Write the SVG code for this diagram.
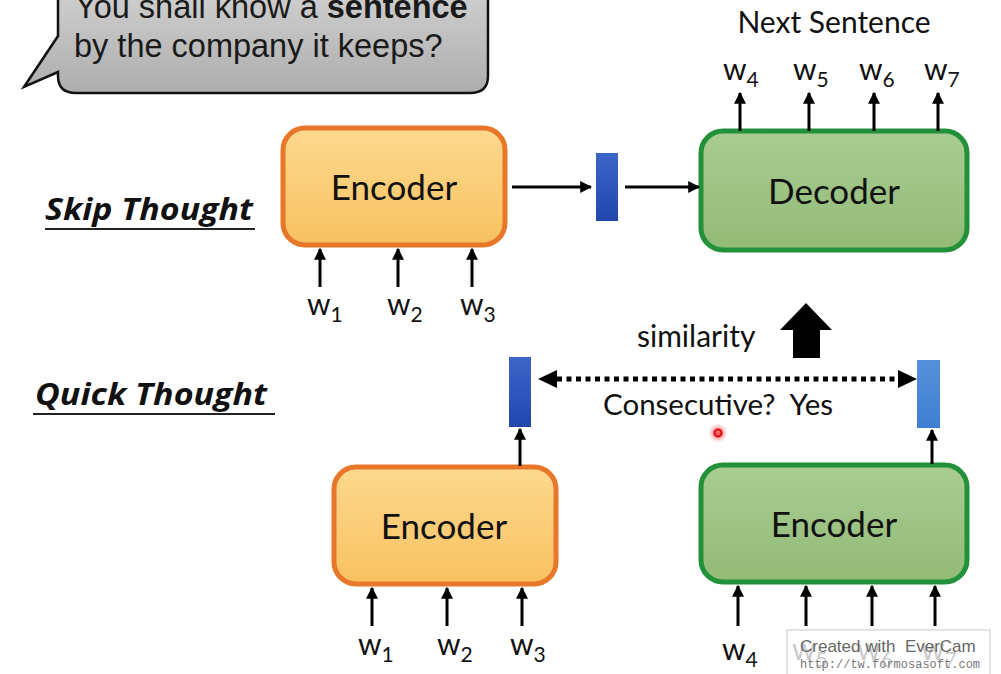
<svg xmlns="http://www.w3.org/2000/svg" width="1001" height="674" viewBox="0 0 1001 674">
<defs>
<linearGradient id="gBubble" x1="0" y1="0" x2="0" y2="1"><stop offset="0" stop-color="#d6d6d6"/><stop offset="1" stop-color="#adadad"/></linearGradient>
<linearGradient id="gOrange" x1="0" y1="0" x2="0" y2="1"><stop offset="0" stop-color="#fdd98f"/><stop offset="1" stop-color="#f8c160"/></linearGradient>
<linearGradient id="gGreen" x1="0" y1="0" x2="0" y2="1"><stop offset="0" stop-color="#a9cc93"/><stop offset="1" stop-color="#92bb76"/></linearGradient>
<linearGradient id="gBlue" x1="0" y1="0" x2="0" y2="1"><stop offset="0" stop-color="#3d66c9"/><stop offset="1" stop-color="#2146ad"/></linearGradient>
<linearGradient id="gBlue2" x1="0" y1="0" x2="0" y2="1"><stop offset="0" stop-color="#5590da"/><stop offset="1" stop-color="#3f7fd2"/></linearGradient>
<radialGradient id="gDot"><stop offset="0" stop-color="#ff3030" stop-opacity="0.9"/><stop offset="0.6" stop-color="#ff5050" stop-opacity="0.35"/><stop offset="1" stop-color="#ff8080" stop-opacity="0"/></radialGradient>
<marker id="ah" viewBox="0 0 10 10" refX="9" refY="5" markerWidth="4" markerHeight="4" orient="auto" markerUnits="strokeWidth"><path d="M0,0 L10,5 L0,10 z" fill="#000"/></marker>
</defs>
<style>
.lbl{font-family:Lato,"Noto Sans","Open Sans",sans-serif;fill:#111}
.box{font-size:35px}
.w{font-size:30px}
.sub{font-size:21px}
.title{font-family:"Open Sans","DejaVu Sans",sans-serif;font-weight:bold;font-style:italic;font-size:30px;fill:#111}
.arr{stroke:#000;stroke-width:3;fill:none;marker-end:url(#ah)}
.ul{stroke:#222;stroke-width:2}
.bub{font-family:'Liberation Sans',Arial,sans-serif;font-size:32.5px;fill:#1a1a1a}
</style>
<rect width="1001" height="674" fill="#fff"/>

<g id="bubble">
<path d="M80,-30 H468 Q488,-30 488,-10 V76 Q488,93 470,93 H76 Q58,93 58,76 V72 L24,87 L58,36 V-10 Q58,-30 80,-30 Z" fill="url(#gBubble)" stroke="#111" stroke-width="2.5"/>
<text class="bub" x="75" y="18">You shall know a <tspan font-weight="bold">sentence</tspan></text>
<text class="bub" x="74" y="57">by the company it keeps?</text>
</g>

<g id="skip-title">
<text class="title" x="45" y="220" textLength="208" lengthAdjust="spacingAndGlyphs">Skip Thought</text>
<line class="ul" x1="45" y1="229" x2="255" y2="229"/>
</g>
<g id="quick-title">
<text class="title" x="35" y="405" textLength="232" lengthAdjust="spacingAndGlyphs">Quick Thought</text>
<line class="ul" x1="33" y1="414" x2="275" y2="414"/>
</g>

<g id="enc-top">
<rect x="283" y="128" width="222" height="117" rx="22" fill="url(#gOrange)" stroke="#e8772a" stroke-width="5"/>
<text class="lbl box" x="394" y="200" text-anchor="middle">Encoder</text>
</g>
<g id="vec-top">
<rect x="596" y="153" width="22" height="68" fill="url(#gBlue)"/>
</g>
<g id="decoder">
<rect x="701" y="131" width="266" height="119" rx="22" fill="url(#gGreen)" stroke="#23903a" stroke-width="5"/>
<text class="lbl box" x="834" y="204" text-anchor="middle">Decoder</text>
</g>
<g id="next-sentence">
<text class="lbl" x="834" y="33" text-anchor="middle" style="font-size:30px">Next Sentence</text>
</g>

<g id="similarity">
<text class="lbl" x="637" y="347" style="font-size:30px">similarity</text>
<path d="M806,303 L832,330 L820,330 L820,358 L793,358 L793,330 L780,330 Z" fill="#000"/>
</g>

<g id="vec-left"><rect x="509" y="357" width="22" height="70" fill="url(#gBlue)"/></g>
<g id="vec-right"><rect x="917" y="360" width="23" height="68" fill="url(#gBlue2)"/></g>
<g id="consecutive">
<text class="lbl" x="603" y="415" style="font-size:29.5px" xml:space="preserve">Consecutive?  Yes</text>
</g>

<g id="enc-bottom-left">
<rect x="334" y="467" width="222" height="117" rx="22" fill="url(#gOrange)" stroke="#e8772a" stroke-width="5"/>
<text class="lbl box" x="444" y="539" text-anchor="middle">Encoder</text>
</g>
<g id="enc-bottom-right">
<rect x="701" y="465" width="266" height="117" rx="22" fill="url(#gGreen)" stroke="#23903a" stroke-width="5"/>
<text class="lbl box" x="834" y="537" text-anchor="middle">Encoder</text>
</g>

<g id="connectors">
<line class="arr" x1="320" y1="287" x2="320" y2="249"/>
<line class="arr" x1="398" y1="287" x2="398" y2="249"/>
<line class="arr" x1="472" y1="287" x2="472" y2="249"/>
<line class="arr" x1="512" y1="187" x2="591" y2="187"/>
<line class="arr" x1="625" y1="187" x2="699" y2="187"/>
<line class="arr" x1="740" y1="131" x2="740" y2="93"/>
<line class="arr" x1="809" y1="131" x2="809" y2="93"/>
<line class="arr" x1="874" y1="131" x2="874" y2="93"/>
<line class="arr" x1="938" y1="131" x2="938" y2="93"/>
<line class="arr" x1="520" y1="466" x2="520" y2="429"/>
<line class="arr" x1="932" y1="464" x2="932" y2="430"/>
<line x1="557" y1="379" x2="899" y2="379" stroke="#000" stroke-width="5" stroke-dasharray="5 4.5"/>
<path d="M538,379 L557,370 L557,388 Z" fill="#000"/>
<path d="M917,379 L898,370 L898,388 Z" fill="#000"/>
<line class="arr" x1="372" y1="626" x2="372" y2="588"/>
<line class="arr" x1="447" y1="626" x2="447" y2="588"/>
<line class="arr" x1="522" y1="626" x2="522" y2="588"/>
<line class="arr" x1="738" y1="626" x2="738" y2="586"/>
<line class="arr" x1="806" y1="626" x2="806" y2="586"/>
<line class="arr" x1="872" y1="626" x2="872" y2="586"/>
<line class="arr" x1="935" y1="626" x2="935" y2="586"/>
</g>

<g id="words-top-in">
<text class="lbl w" x="307" y="315">w<tspan class="sub" dy="7">1</tspan></text>
<text class="lbl w" x="387" y="315">w<tspan class="sub" dy="7">2</tspan></text>
<text class="lbl w" x="460" y="315">w<tspan class="sub" dy="7">3</tspan></text>
</g>
<g id="words-top-out">
<text class="lbl w" x="723" y="80">w<tspan class="sub" dy="7">4</tspan></text>
<text class="lbl w" x="793" y="80">w<tspan class="sub" dy="7">5</tspan></text>
<text class="lbl w" x="859" y="80">w<tspan class="sub" dy="7">6</tspan></text>
<text class="lbl w" x="924" y="80">w<tspan class="sub" dy="7">7</tspan></text>
</g>
<g id="words-bottom-left">
<text class="lbl w" x="358" y="655">w<tspan class="sub" dy="7">1</tspan></text>
<text class="lbl w" x="437" y="655">w<tspan class="sub" dy="7">2</tspan></text>
<text class="lbl w" x="510" y="655">w<tspan class="sub" dy="7">3</tspan></text>
</g>
<g id="words-bottom-right">
<text class="lbl w" x="722" y="660">w<tspan class="sub" dy="7">4</tspan></text>
<text class="lbl w" x="792" y="660">w<tspan class="sub" dy="7">5</tspan></text>
<text class="lbl w" x="857" y="660">w<tspan class="sub" dy="7">6</tspan></text>
<text class="lbl w" x="921" y="660">w<tspan class="sub" dy="7">7</tspan></text>
</g>

<g id="pointer">
<circle cx="718" cy="433" r="10" fill="url(#gDot)"/>
<circle cx="718" cy="433" r="3.5" fill="none" stroke="#e01010" stroke-width="2.2"/>
</g>

<g id="watermark">
<rect x="787" y="630" width="203" height="46" fill="#fff" fill-opacity="0.78" stroke="#c8c8c8" stroke-width="1"/>
<text x="800" y="652" style="font-family:'Liberation Sans',Arial,sans-serif;font-size:17px;fill:#666" xml:space="preserve">Created with  EverCam</text>
<text x="800" y="668" style="font-family:'Liberation Mono','DejaVu Sans Mono',monospace;font-size:12px;fill:#777">http://tw.formosasoft.com</text>
</g>
</svg>
